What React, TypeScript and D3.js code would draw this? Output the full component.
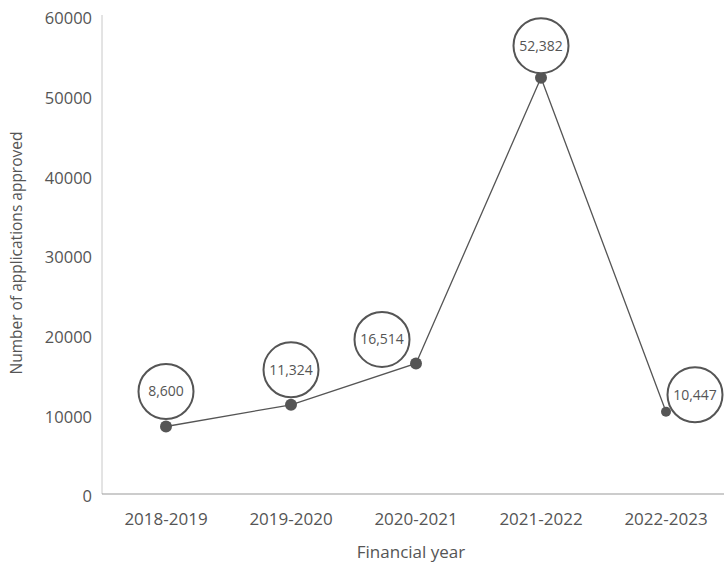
import React from "react";
import * as d3 from "d3";

const categories = ["2018-2019", "2019-2020", "2020-2021", "2021-2022", "2022-2023"];
const values = [8600, 11324, 16514, 52382, 10447];
const yTicks = [0, 10000, 20000, 30000, 40000, 50000, 60000];
// label bubble offsets relative to each point (layout only)
const bubbleDx = [0, 0, -34, 0, 29];
const bubbleDy = [-35, -35, -24, -32, -17];

const W = 724;
const H = 562;
const FONT = "'Open Sans', 'DejaVu Sans', sans-serif";
const GREY = "#555";

export default function App() {
  const x = d3.scalePoint<string>().domain(categories).range([166, 666]);
  const y = d3.scaleLinear().domain([0, 60000]).range([495, 17]);
  const line = d3
    .line<number>()
    .x((_, i) => x(categories[i])!)
    .y((d) => y(d));
  const fmt = d3.format(",");

  return (
    <svg
      width={W}
      height={H}
      style={{ position: "absolute", left: 0, top: 0, background: "#fff" }}
      fontFamily={FONT}
    >
      <line x1={102} x2={102} y1={15} y2={494} stroke="#c8c8c8" strokeWidth={1} />
      <line x1={102} x2={724} y1={494} y2={494} stroke="#999" strokeWidth={1.2} />
      {yTicks.map((t) => (
        <text
          key={t}
          x={92}
          y={y(t)}
          dy="0.45em"
          textAnchor="end"
          fontSize={16.5}
          fill={GREY}
        >
          {t}
        </text>
      ))}
      {categories.map((c) => (
        <text key={c} x={x(c)} y={525} textAnchor="middle" fontSize={17} fill={GREY}>
          {c}
        </text>
      ))}
      <text x={411} y={558} textAnchor="middle" fontSize={17} fill={GREY}>
        Financial year
      </text>
      <text
        transform={`translate(22,${253}) rotate(-90)`}
        textAnchor="middle"
        fontSize={15.5}
        fill={GREY}
      >
        Number of applications approved
      </text>
      <path d={line(values) || ""} fill="none" stroke={GREY} strokeWidth={1.3} />
      {values.map((v, i) => (
        <circle key={"d" + i} cx={x(categories[i])} cy={y(v)} r={i === 4 ? 5 : 6} fill={GREY} />
      ))}
      {values.map((v, i) => {
        const cx = x(categories[i])! + bubbleDx[i];
        const cy = y(v) + bubbleDy[i];
        return (
          <g key={"b" + i}>
            <circle cx={cx} cy={cy} r={27.5} fill="#fff" stroke={GREY} strokeWidth={2} />
            <text x={cx} y={cy} dy="0.35em" textAnchor="middle" fontSize={14} fill={GREY}>
              {fmt(v)}
            </text>
          </g>
        );
      })}
    </svg>
  );
}
